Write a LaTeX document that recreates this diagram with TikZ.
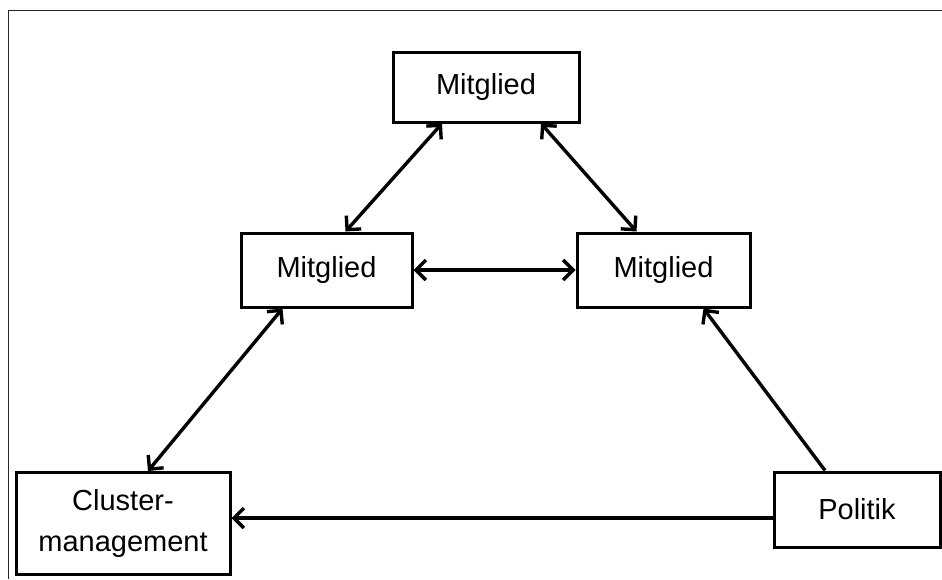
\documentclass[tikz,border=0pt]{standalone}
\usepackage{fontspec}
\setmainfont{Liberation Sans}
\usetikzlibrary{arrows.meta,calc}
\begin{document}
\begin{tikzpicture}[x=1pt,y=-1pt,
  box/.style={draw=black,line width=3pt,fill=white,inner sep=0pt,align=center,
    font=\fontsize{29}{41}\selectfont},
  conn/.style={line width=3.4pt,draw=black},
  >={Straight Barb[length=10pt,width=20pt]}]
\useasboundingbox (0,0) rectangle (942,579);
\draw[line width=1.7pt,draw=black!85] (8.5,579) -- (8.5,10.5) -- (942,10.5);
\node[box,minimum width=186pt,minimum height=70pt] (top) at (486,87) {Mitglied};
\node[box,minimum width=171pt,minimum height=74pt] (ml) at (326.5,270) {Mitglied};
\node[box,minimum width=173pt,minimum height=74pt] (mr) at (663.5,270) {Mitglied};
\node[box,minimum width=214pt,minimum height=102pt] (cl) at (123,523.5) {Cluster-\\management};
\node[box,minimum width=166pt,minimum height=75pt] (pol) at (857,509.5) {Politik};
\draw[conn,<->] ($(top.south)+(-44,0)$) -- ($(ml.north)+(19,0)$);
\draw[conn,<->] ($(top.south)+(55,0)$) -- ($(mr.north)+(-27,0)$);
\draw[conn,<->] (ml.east) -- (mr.west);
\draw[conn,<->] ($(ml.south)+(-44,0)$) -- ($(cl.north)+(25,0)$);
\draw[conn,->] ($(pol.north)+(-32,0)$) -- ($(mr.south)+(40,0)$);
\coordinate (pw) at ($(pol.west)+(0,8.5)$);
\draw[conn,->] (pw) -- (cl.east |- pw);
\end{tikzpicture}
\end{document}
